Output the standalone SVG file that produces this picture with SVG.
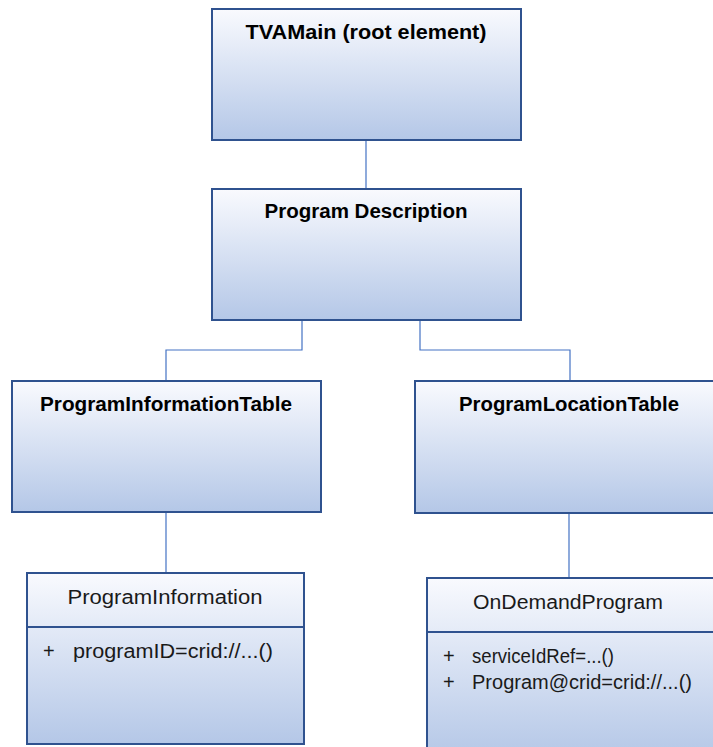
<svg xmlns="http://www.w3.org/2000/svg" width="713" height="747" viewBox="0 0 713 747">
<defs>
<linearGradient id="g" x1="0" y1="0" x2="0" y2="1">
<stop offset="0" stop-color="#f9fafe"/>
<stop offset="1" stop-color="#b4c7e7"/>
</linearGradient>
<style>
.box{fill:url(#g);stroke:#2f528f;stroke-width:2}
.div{stroke:#2f528f;stroke-width:2}
.t{font-family:"Liberation Sans",Arial,sans-serif;font-weight:bold;font-size:20px;fill:#000;text-anchor:middle}
.r{font-family:"Liberation Sans",Arial,sans-serif;font-size:20px;fill:#1a1a1a}
.rc{text-anchor:middle}
.c{fill:none;stroke:#4472c4;stroke-width:1.2}
</style>
</defs>
<rect width="713" height="747" fill="#fff"/>
<g id="connectors">
<path class="c" d="M366 140V189"/>
<path class="c" d="M302 320V350H166V381"/>
<path class="c" d="M420 320V350H570V381"/>
<path class="c" d="M166 512V573"/>
<path class="c" d="M569 513V578"/>
</g>
<g id="tvamain">
<rect class="box" x="212" y="9" width="309" height="131"/>
<text class="t" x="366" y="39" textLength="241" lengthAdjust="spacingAndGlyphs">TVAMain (root element)</text>
</g>
<g id="programDescription">
<rect class="box" x="212" y="189" width="309" height="131"/>
<text class="t" x="366" y="218" textLength="203" lengthAdjust="spacingAndGlyphs">Program Description</text>
</g>
<g id="programInformationTable">
<rect class="box" x="12" y="381" width="309" height="131"/>
<text class="t" x="166" y="411" textLength="252" lengthAdjust="spacingAndGlyphs">ProgramInformationTable</text>
</g>
<g id="programLocationTable">
<rect class="box" x="415" y="381" width="310" height="132"/>
<text class="t" x="569" y="411" textLength="220" lengthAdjust="spacingAndGlyphs">ProgramLocationTable</text>
</g>
<g id="programInformation">
<rect class="box" x="27" y="573" width="277" height="171"/>
<line class="div" x1="27" y1="627" x2="304" y2="627"/>
<text class="r rc" x="165" y="604" textLength="195" lengthAdjust="spacingAndGlyphs">ProgramInformation</text>
<text class="r" x="43" y="658">+</text>
<text class="r" x="73" y="658" textLength="200" lengthAdjust="spacingAndGlyphs">programID=crid://...()</text>
</g>
<g id="onDemandProgram">
<rect class="box" x="427" y="578" width="300" height="180"/>
<line class="div" x1="427" y1="632" x2="727" y2="632"/>
<text class="r rc" x="568" y="609" textLength="190" lengthAdjust="spacingAndGlyphs">OnDemandProgram</text>
<text class="r" x="443" y="663">+</text>
<text class="r" x="472" y="663" textLength="142" lengthAdjust="spacingAndGlyphs">serviceIdRef=...()</text>
<text class="r" x="443" y="689">+</text>
<text class="r" x="472" y="689" textLength="220" lengthAdjust="spacingAndGlyphs">Program@crid=crid://...()</text>
</g>
</svg>
